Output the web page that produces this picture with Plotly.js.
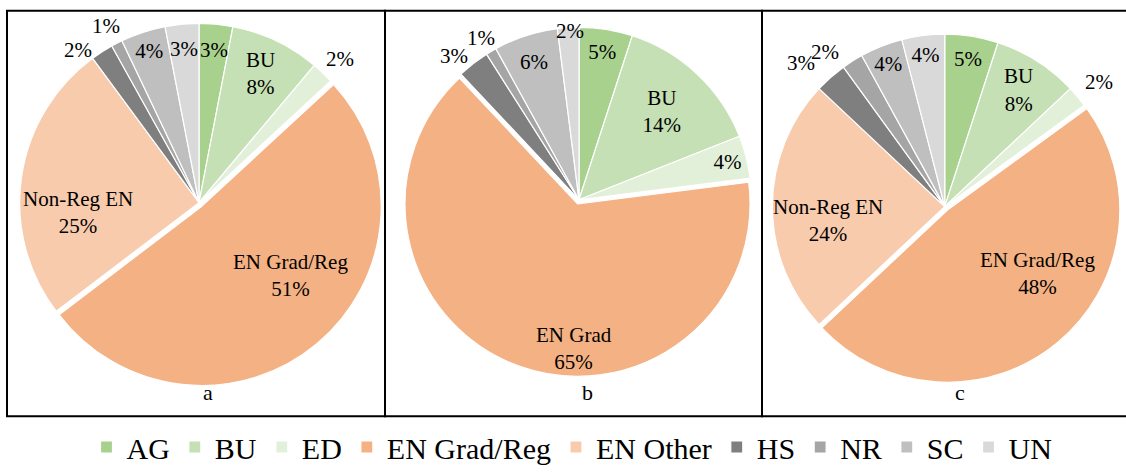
<!DOCTYPE html>
<html><head><meta charset="utf-8">
<script src="https://cdn.plot.ly/plotly-3.0.1.min.js"></script>
</head><body style="margin:0;padding:0;background:#fff">
<div id="chart" style="width:1126px;height:473px"></div>
<script>
const categories = ["AG","BU","ED","EN Grad/Reg","EN Other","HS","NR","SC","UN"];
const valuesA = [3, 8, 2, 51, 25, 2, 1, 4, 3];
const valuesB = [5, 14, 4, 65, 0, 3, 1, 6, 2];
const valuesC = [5, 8, 2, 48, 24, 3, 2, 4, 4];
const sliceNamesA = ["", "BU", "", "EN Grad/Reg", "Non-Reg EN", "", "", "", ""];
const sliceNamesB = ["", "BU", "", "EN Grad", "", "", "", "", ""];
const sliceNamesC = ["", "BU", "", "EN Grad/Reg", "Non-Reg EN", "", "", "", ""];
const panelLabels = ["a", "b", "c"];
const colors = ["#A9D18E","#C5E0B4","#E2F0D9","#F4B183","#F8CBAD","#7F7F7F","#A5A5A5","#BFBFBF","#D9D9D9"];

const W = 1126, H = 473;
const FONT = "Liberation Serif";
const TXT = 21;
const px = x => Math.min(1, Math.max(0, x / W));
const py = y => 1 - y / H;

function texts(vals, names) {
  return vals.map((v, i) => v === 0 ? "" : (names[i] ? names[i] + "<br>" + v + "%" : v + "%"));
}
const PULL = 0.025;
// I = plotly inside label; A = label placed on the slice bisector (annotation)
const I = "inside", A = "placed", N = "none";
function pieDomain(cx, cy, r) {
  let h = r * (1 + PULL);
  if (cx + h > W) { h = (W - (cx - h)) / 2; cx = W - h; }
  return {x: [px(cx - h), px(cx + h)], y: [py(cy + h), py(cy - h)], cx: cx, r: h / (1 + PULL)};
}
function pieTrace(vals, names, cx, cy, r, pos, showlegend) {
  const d = pieDomain(cx, cy, r);
  return {
    type: "pie", labels: categories, values: vals, sort: false, direction: "clockwise", rotation: 0,
    text: texts(vals, names), textinfo: "text",
    textposition: pos.map(p => p === I ? I : N),
    insidetextorientation: "horizontal",
    textfont: {family: FONT, size: TXT, color: "#000"},
    pull: categories.map(c => c === "EN Grad/Reg" ? PULL : 0),
    marker: {colors: colors, line: {color: "#fff", width: 1.2}},
    domain: {x: d.x, y: d.y},
    hoverinfo: "none", showlegend: showlegend
  };
}
// labels placed along each slice's bisector (angle from the values);
// tweak = {sliceIndex: [radial offset from rim, angle nudge in degrees]}
function placedLabels(vals, names, pos, cx0, cy, r0, gap, tweak) {
  const dm = pieDomain(cx0, cy, r0), cx = dm.cx, r = dm.r;
  const total = vals.reduce((a, b) => a + b, 0);
  const tx = texts(vals, names);
  let cum = 0; const out = [];
  vals.forEach((v, i) => {
    let th = (cum + v / 2) / total * 2 * Math.PI; cum += v;
    if (pos[i] !== A || v === 0) return;
    const t = tweak[i] || [gap, 0];
    th += t[1] * Math.PI / 180;
    const d = r + t[0];
    out.push({text: tx[i], xref: "paper", yref: "paper", showarrow: false, align: "center",
      x: px(cx + d * Math.sin(th)), y: py(cy - d * Math.cos(th)),
      xanchor: "center", yanchor: "middle", font: {family: FONT, size: TXT, color: "#000"}});
  });
  return out;
}
const posA = [A, I, A, A, A, A, A, I, A];
const posB = [I, I, I, A, I, A, A, I, A];
const posC = [I, I, A, A, A, A, A, I, I];
const geo = {a: [199, 208, 184], b: [579, 205, 177], c: [949, 212, 181]};

const data = [
  pieTrace(valuesA, sliceNamesA, ...geo.a, posA, true),
  pieTrace(valuesB, sliceNamesB, ...geo.b, posB, false),
  pieTrace(valuesC, sliceNamesC, ...geo.c, posC, false)
];
const panels = [[7, 385], [385, 762], [762, 1130]];
const labelX = [208, 587, 960];
const annotations = panelLabels.map((t, i) => ({text: t, xref: "paper", yref: "paper",
    x: px(labelX[i]), y: py(403), xanchor: "center", yanchor: "middle", showarrow: false,
    font: {family: FONT, size: 22, color: "#000"}}))
  .concat(placedLabels(valuesA, sliceNamesA, posA, ...geo.a, 20,
    {0: [-27, 0], 3: [-66, -10.5], 4: [-63, -13], 5: [14, -5], 8: [-26, 0]}))
  .concat(placedLabels(valuesB, sliceNamesB, posB, ...geo.b, 16,
    {3: [-24, -18], 5: [16, -2.5], 8: [-4, 0.5]}))
  .concat(placedLabels(valuesC, sliceNamesC, posC, ...geo.c, 24,
    {3: [-62, -14], 4: [-59, -7], 5: [29, -3], 6: [22, -4.5]}));
const layout = {
  width: W, height: H, margin: {l: 0, r: 0, t: 0, b: 0},
  paper_bgcolor: "#fff",
  shapes: panels.map(p => ({type: "rect", xref: "paper", yref: "paper",
    x0: p[0] / W, x1: p[1] / W, y0: py(427), y1: py(11), line: {color: "#000", width: 2}})),
  annotations: annotations,
  legend: {orientation: "h", x: 572 / W, xanchor: "center", y: py(459), yanchor: "middle",
    font: {family: FONT, size: 30, color: "#000"}, traceorder: "normal"}
};
Plotly.newPlot("chart", data, layout, {displayModeBar: false});
</script></body></html>
